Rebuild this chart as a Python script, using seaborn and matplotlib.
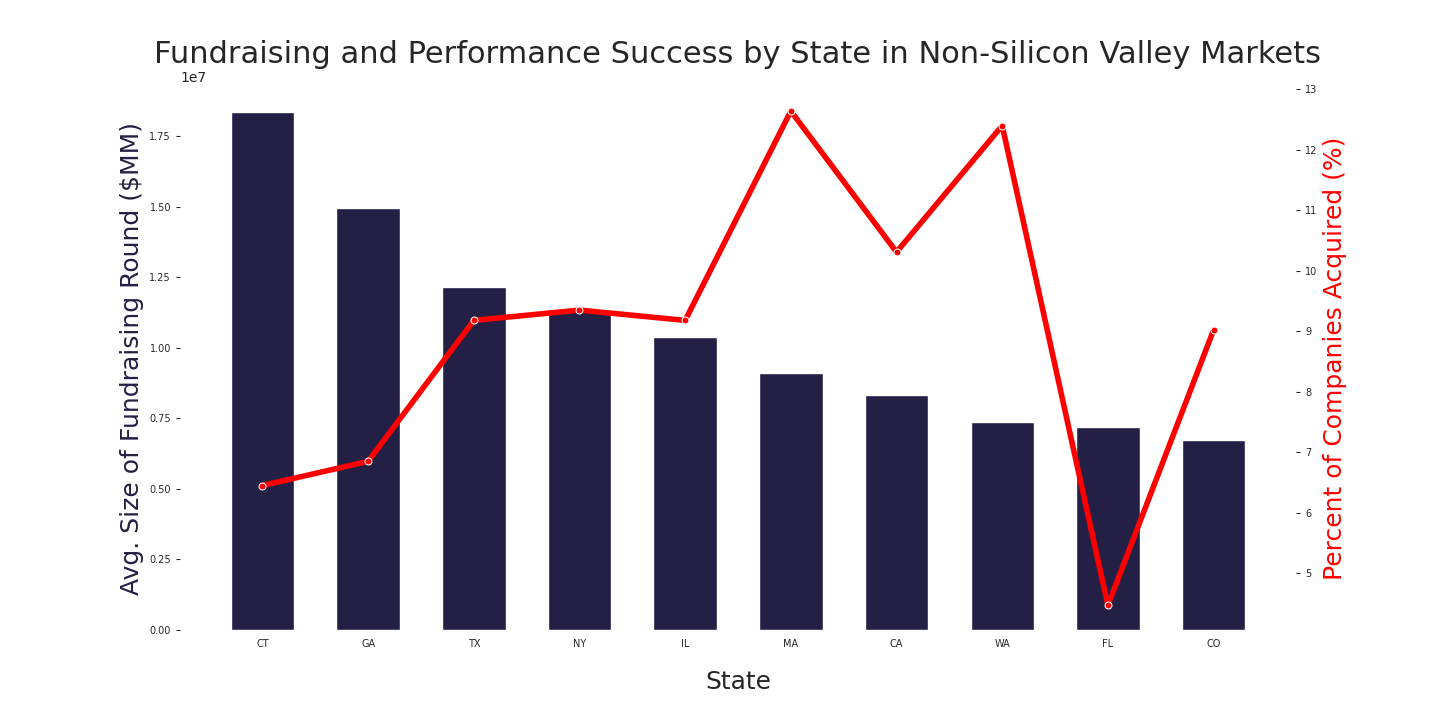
import seaborn as sns
from matplotlib import pyplot as plt
import pandas as pd

states = ["CT", "GA", "TX", "NY", "IL", "MA", "CA", "WA", "FL", "CO"]
avg_round = [1.835e7, 1.497e7, 1.217e7, 1.135e7, 1.037e7, 0.912e7, 0.834e7, 0.738e7, 0.721e7, 0.674e7]
pct_acquired = [6.45, 6.85, 9.18, 9.35, 9.18, 12.64, 10.31, 12.40, 4.47, 9.02]

df = pd.DataFrame({"state": states, "avg_round": avg_round, "pct_acquired": pct_acquired})

sns.set_style("white")
fig, ax = plt.subplots(figsize=(14.4, 7.2), dpi=100)
fig.subplots_adjust(left=0.125, right=0.9, top=0.88, bottom=0.125)

sns.barplot(data=df, x="state", y="avg_round", color="#241f45", width=0.6, saturation=1, ax=ax)
ax.set_xlabel("State", fontsize=18, labelpad=15)
ax.set_ylabel("Avg. Size of Fundraising Round ($MM)", fontsize=18, color="#241f45")
ax.tick_params(axis="both", labelsize=7, length=3)
ax.tick_params(axis="y", direction="out", left=True)

ax2 = ax.twinx()
sns.lineplot(data=df, x="state", y="pct_acquired", color="red", linewidth=4,
             marker="o", markersize=5, markeredgecolor="white", ax=ax2)
ax2.set_ylabel("Percent of Companies Acquired (%)", fontsize=18, color="red")
ax2.tick_params(axis="y", labelsize=7, length=3, right=True)

for a in (ax, ax2):
    for s in a.spines.values():
        s.set_visible(False)

ax.set_title("Fundraising and Performance Success by State in Non-Silicon Valley Markets", fontsize=22)
fig.savefig("out.png")
